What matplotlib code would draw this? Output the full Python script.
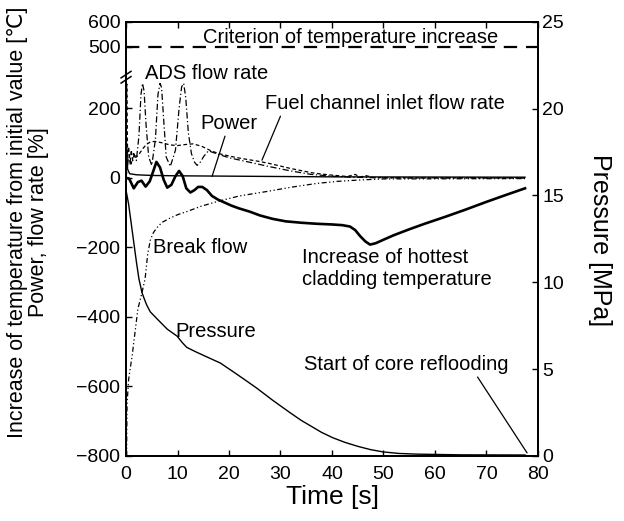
import numpy as np
import matplotlib
matplotlib.use("Agg")
import matplotlib.pyplot as plt

plt.rcParams['font.family'] = ['Liberation Sans', 'DejaVu Sans']

# hottest cladding temperature increase [C]
t_clad = [0, 0.6, 1.5, 2.3, 3.0, 3.8, 4.6, 5.3, 5.9, 6.6, 7.3, 8.0, 8.8, 9.6, 10.3, 11.0,
          11.7, 12.5, 13.3, 14.0, 14.8, 15.7, 16.7, 17.8, 19, 20.5, 22, 24, 26, 28.5, 31,
          34, 37, 40, 42, 43.5, 44.5, 45.5, 46.5, 47.4, 48.5, 50, 52, 55, 58, 62, 66, 70,
          74, 77.5]
v_clad = [0, -2, -30, -12, -8, -25, -10, 20, 46, 30, -5, -28, -20, 5, 20, 5,
          -30, -42, -35, -26, -26, -35, -52, -62, -70, -80, -88, -97, -108, -118, -125,
          -129, -132, -134, -136, -140, -150, -168, -183, -192, -188, -178, -165, -148, -132,
          -112, -91, -69, -48, -30]

# power [%]
t_power = [0, 0.1, 0.3, 0.7, 2, 5, 10, 20, 40, 77.5]
v_power = [100, 100, 25, 12, 9, 7, 6, 5, 3, 2]

# fuel channel inlet flow rate [%]
t_fuel = [0, 0.15, 0.3, 0.5, 0.8, 1.0, 1.3, 1.6, 2.0, 2.6, 3.3, 4.0, 4.8, 5.6, 7.0, 8.5, 10,
          11.5, 13, 14.7, 16.5, 18, 20, 22, 24, 26, 28, 30, 32, 34, 36, 38, 40, 43, 44.5,
          45.5, 46.5, 48, 55, 65, 77.5]
v_fuel = [100, 270, 60, 90, 40, 80, 50, 70, 60, 70, 85, 97, 104, 105, 101, 95, 93,
          96, 98, 91, 78, 70, 63, 57, 52, 47, 41, 34, 27, 21, 15, 11, 8, 4, 10,
          2, 7, 1, 0, 0, 0]

# ADS flow rate [%]
t_ads = [0, 0.5, 1.0, 1.5, 2.0, 2.5, 2.9, 3.2, 3.5, 3.9, 4.4, 5.0, 5.7, 6.2, 6.6, 6.9, 7.3,
         7.8, 8.6, 9.6, 10.3, 10.8, 11.2, 11.6, 12.1, 12.7, 13.3, 13.8, 14.4, 15.1, 16.0,
         17.5, 20, 24, 28, 32, 36, 40, 44, 50, 77.5]
v_ads = [0, 60, 40, 70, 50, 120, 240, 272, 250, 150, 60, 36, 110, 240, 272, 260, 170,
         60, 33, 80, 200, 262, 272, 230, 130, 70, 45, 36, 45, 62, 78, 70, 58, 45, 32, 20,
         10, 5, 2, 0, 0]

# break flow [%]
t_break = [0, 0.1, 0.2, 0.5, 1.2, 2.3, 3.1, 3.7, 4.2, 4.7, 5.3, 6.0, 7.0, 8.5, 10, 11.8,
           14.5, 17.7, 22, 27.4, 32, 37, 41, 45.4, 50, 77.5]
v_break = [-800, -800, -650, -580, -510, -377, -330, -290, -220, -180, -158, -143, -128,
           -116, -106, -97, -82, -68, -52, -39, -27, -16, -10, -6, -3, -2]

# pressure [MPa]
t_pres = [0, 0.5, 1.0, 1.5, 2.0, 2.5, 3.1, 3.6, 4.0, 4.7, 6, 7, 8, 9.9, 11, 11.8, 13.5, 15.7,
          18.3, 20.8, 23, 25.4, 28.5, 31.8, 34, 36, 38, 40.2, 42.5, 45, 47.5, 49.9, 53,
          56.5, 65, 77.5]
v_pres = [15.3, 14.5, 13.4, 12.3, 11.2, 10.2, 9.4, 9.0, 8.7, 8.3, 7.9, 7.6, 7.3, 6.9, 6.5,
          6.25, 6.0, 5.7, 5.35, 4.85, 4.4, 3.9, 3.2, 2.5, 2.05, 1.7, 1.35, 1.04, 0.78, 0.55,
          0.36, 0.23, 0.14, 0.1, 0.06, 0.05]

criterion = 500

# broken left axis: 300..500 squeezed, 500..600 a bit compressed
y_real = [-800, 300, 500, 600]
y_map = [-800, 300, 377, 449]


def fwd(y):
    y = np.asarray(y, dtype=float)
    return np.where(y <= 300, y, np.interp(y, y_real, y_map))


def inv(y):
    y = np.asarray(y, dtype=float)
    return np.where(y <= 300, y, np.interp(y, y_map, y_real))


fig = plt.figure(figsize=(6.24, 5.21), dpi=100)
ax = fig.add_axes([0.202, 0.125, 0.66, 0.833])
ax.set_yscale('function', functions=(fwd, inv))
ax2 = ax.twinx()

ax.plot(t_clad, v_clad, color='black', lw=1.9)
ax.plot(t_power, v_power, color='black', lw=1.0)
ax.plot(t_fuel, v_fuel, color='black', lw=0.9, linestyle=(0, (3, 2)))
ax.plot(t_ads, v_ads, color='black', lw=0.9, linestyle=(0, (5, 2, 1, 2)))
ax.plot(t_break, v_break, color='black', lw=0.9, linestyle=(0, (4, 2, 1, 2, 1, 2)))
ax.axhline(criterion, color='black', lw=1.6, linestyle=(0, (6, 4)))
ax2.plot(t_pres, v_pres, color='black', lw=1.0)

ax.set_xlim(0, 80)
ax.set_ylim(-800, 600)
ax2.set_ylim(0, 25)
ax.set_xticks(range(0, 81, 10))
ax.set_yticks([-800, -600, -400, -200, 0, 200, 500, 600])
ax.set_yticklabels(['\u2212800', '\u2212600', '\u2212400', '\u2212200', '0', '200', '500', '600'])
ax2.set_yticks(range(0, 26, 5))

for a in (ax, ax2):
    a.tick_params(direction='in', labelsize=14, length=4, width=1)
    for s in a.spines.values():
        s.set_linewidth(1.3)
ax.tick_params(top=True)
ax.tick_params(axis='y', pad=4)
ax.tick_params(axis='x', pad=7)
ax2.tick_params(axis='y', pad=3)

fig.text(333 / 624, 1 - 497 / 521, 'Time [s]', fontsize=19, ha='center', va='center')
fig.text(28 / 624, 1 - 222 / 521,
         'Increase of temperature from initial value [\u2103]\nPower, flow rate [%]',
         fontsize=15.5, rotation=90, ha='center', va='center', linespacing=1.05,
         multialignment='center')
fig.text(600 / 624, 1 - 240 / 521, 'Pressure [MPa]', fontsize=18, rotation=270,
         ha='center', va='center')

# axis break marks
for dy in (-0.006, 0.006):
    ax.plot([-0.012, 0.012], [0.865 + dy, 0.880 + dy], transform=ax.transAxes,
            color='black', lw=1.1, clip_on=False)

fs = 14.5
ax.text(0.546, 0.963, 'Criterion of temperature increase', transform=ax.transAxes,
        ha='center', va='center', fontsize=fs)
ax.text(0.046, 0.880, 'ADS flow rate', transform=ax.transAxes, ha='left', va='center', fontsize=fs)
ax.annotate('Fuel channel inlet flow rate', xy=(26.4, 51), xytext=(0.337, 0.811),
            textcoords='axes fraction', ha='left', va='center', fontsize=fs,
            arrowprops=dict(arrowstyle='-', lw=0.9, shrinkA=0, shrinkB=0,
                            relpos=(0.07, 0.0)))
ax.annotate('Power', xy=(16.7, 4), xytext=(0.180, 0.765),
            textcoords='axes fraction', ha='left', va='center', fontsize=fs,
            arrowprops=dict(arrowstyle='-', lw=0.9, shrinkA=0, shrinkB=0,
                            relpos=(0.45, 0.0)))
ax.text(0.066, 0.479, 'Break flow', transform=ax.transAxes, ha='left', va='center', fontsize=fs)
ax.text(0.427, 0.431, 'Increase of hottest\ncladding temperature', transform=ax.transAxes,
        ha='left', va='center', fontsize=fs)
ax.text(0.119, 0.286, 'Pressure', transform=ax.transAxes, ha='left', va='center', fontsize=fs)
ax2.annotate('Start of core reflooding', xy=(77.9, 0.17), xytext=(0.432, 0.210),
             textcoords='axes fraction', ha='left', va='center', fontsize=fs,
             arrowprops=dict(arrowstyle='-', lw=0.9, shrinkA=0, shrinkB=0,
                             relpos=(0.84, 0.0)))

fig.savefig('out.png', dpi=100)
